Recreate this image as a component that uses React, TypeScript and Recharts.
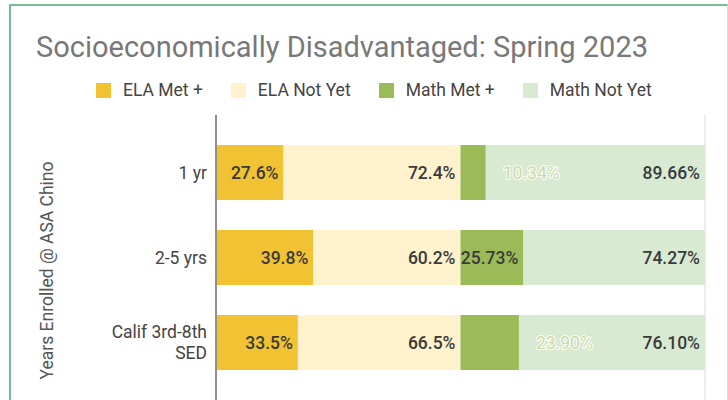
import React from "react";
import {
  BarChart,
  Bar,
  XAxis,
  YAxis,
  CartesianGrid,
  Legend,
  LabelList,
} from "recharts";

// values
const categories = ["1 yr", "2-5 yrs", "Calif 3rd-8th SED"];
const elaMet = [27.6, 39.8, 33.5];
const elaNotYet = [72.4, 60.2, 66.5];
const mathMet = [10.34, 25.73, 23.9];
const mathNotYet = [89.66, 74.27, 76.1];
const xTicks = [0, 50, 100, 150, 200];

const FONT = "Roboto, sans-serif";
const LABEL_SIZE = 17.5;

const series = [
  { key: "elaMet", name: "ELA Met +", color: "#f1c232", digits: 1 },
  { key: "elaNotYet", name: "ELA Not Yet", color: "#fff2cc", digits: 1 },
  { key: "mathMet", name: "Math Met +", color: "#9bbb59", digits: 2 },
  { key: "mathNotYet", name: "Math Not Yet", color: "#d9ead3", digits: 2 },
];

const data = categories.map((name, i) => ({
  name,
  elaMet: elaMet[i],
  elaNotYet: elaNotYet[i],
  mathMet: mathMet[i],
  mathNotYet: mathNotYet[i],
}));

// rough Roboto width of a label like "23.90%"
const textWidth = (s: string) => {
  let w = 0;
  for (const c of s) {
    if (c === ".") w += 0.263;
    else if (c === "%") w += 0.733;
    else w += 0.562;
  }
  return w * LABEL_SIZE;
};

const makeLabel = (digits: number) => (props: any) => {
  const { x, y, width, height, value } = props;
  const text = `${Number(value).toFixed(digits)}%`;
  const fits = width >= textWidth(text) + 5;
  const cy = y + height / 2;
  if (fits) {
    return (
      <text
        x={x + width - 5}
        y={cy}
        textAnchor="end"
        dominantBaseline="central"
        fontFamily={FONT}
        fontSize={LABEL_SIZE}
        fontWeight={500}
        fill="#3a3a3a"
      >
        {text}
      </text>
    );
  }
  // too small: google puts it past the bar in a pale colour
  return (
    <text
      x={x + width + 17}
      y={cy}
      textAnchor="start"
      dominantBaseline="central"
      fontFamily={FONT}
      fontSize={LABEL_SIZE}
      fill="#c9da9f"
      stroke="#ffffff"
      strokeWidth={2}
      paintOrder="stroke"
    >
      {text}
    </text>
  );
};

const CategoryTick = (props: any) => {
  const { x, y, payload } = props;
  const value: string = payload.value;
  let lines = [value];
  if (value.length > 12) {
    const cut = value.lastIndexOf(" ");
    lines = [value.slice(0, cut), value.slice(cut + 1)];
  }
  const lineH = 21;
  const startDy = -((lines.length - 1) * lineH) / 2;
  return (
    <text
      x={x}
      y={y}
      textAnchor="end"
      fontFamily={FONT}
      fontSize={LABEL_SIZE}
      fill="#444"
    >
      {lines.map((l, i) => (
        <tspan key={i} x={x} dy={i === 0 ? startDy : lineH} dominantBaseline="central">
          {l}
        </tspan>
      ))}
    </text>
  );
};

const YLabel = (props: any) => {
  const { viewBox } = props;
  const cx = viewBox.x + 47;
  const cy = viewBox.y + viewBox.height / 2 + 13;
  return (
    <text
      x={cx}
      y={cy}
      transform={`rotate(-90, ${cx}, ${cy})`}
      textAnchor="middle"
      dominantBaseline="central"
      fontFamily={FONT}
      fontSize={LABEL_SIZE}
      fill="#555"
    >
      Years Enrolled @ ASA Chino
    </text>
  );
};

const renderLegend = () => (
  <div style={{ display: "flex", alignItems: "center", fontFamily: FONT }}>
    {series.map((s, i) => (
      <div
        key={s.key}
        style={{
          display: "flex",
          alignItems: "center",
          marginLeft: i === 0 ? 0 : 28,
        }}
      >
        <span
          style={{
            display: "inline-block",
            width: 15,
            height: 15,
            background: s.color,
            marginRight: 12,
          }}
        />
        <span style={{ fontSize: LABEL_SIZE, color: "#444", lineHeight: "18px" }}>
          {s.name}
        </span>
      </div>
    ))}
  </div>
);

export default function App() {
  return (
    <div
      style={{
        position: "absolute",
        left: 0,
        top: 0,
        width: 728,
        height: 400,
        overflow: "hidden",
        background: "#fff",
      }}
    >
      {/* card frame */}
      <div
        style={{
          position: "absolute",
          left: 9,
          top: 4,
          width: 716,
          height: 420,
          borderTop: "2px solid #72bf91",
          borderLeft: "2px solid #72bf91",
          borderRight: "1px solid #c7e6d3",
        }}
      />
      <div
        style={{
          position: "absolute",
          left: 36,
          top: 31,
          fontFamily: FONT,
          fontSize: 29,
          lineHeight: "32px",
          color: "#787878",
          whiteSpace: "nowrap",
        }}
      >
        Socioeconomically Disadvantaged: Spring 2023
      </div>
      <div style={{ position: "absolute", left: 0, top: 0 }}>
        <BarChart
          width={728}
          height={420}
          data={data}
          layout="vertical"
          barSize={55}
          margin={{ top: 115, right: 23, left: 0, bottom: 0 }}
        >
          <CartesianGrid horizontal={false} stroke="#dcdcdc" />
          <XAxis
            type="number"
            domain={[0, 200]}
            ticks={xTicks}
            tick={false}
            axisLine={false}
            tickLine={false}
            height={20}
          />
          <YAxis
            type="category"
            dataKey="name"
            width={216}
            padding={{ top: 15, bottom: 15 }}
            axisLine={{ stroke: "#8f8f8f", strokeWidth: 2 }}
            tickLine={false}
            tickMargin={3}
            tick={<CategoryTick />}
            label={<YLabel />}
          />
          <Legend
            layout="horizontal"
            verticalAlign="middle"
            align="center"
            content={renderLegend}
            wrapperStyle={{ top: 81, left: 96, width: "auto" }}
          />
          {series.map((s) => (
            <Bar
              key={s.key}
              dataKey={s.key}
              name={s.name}
              stackId="a"
              fill={s.color}
              isAnimationActive={false}
            >
              <LabelList dataKey={s.key} content={makeLabel(s.digits)} />
            </Bar>
          ))}
        </BarChart>
      </div>
    </div>
  );
}
